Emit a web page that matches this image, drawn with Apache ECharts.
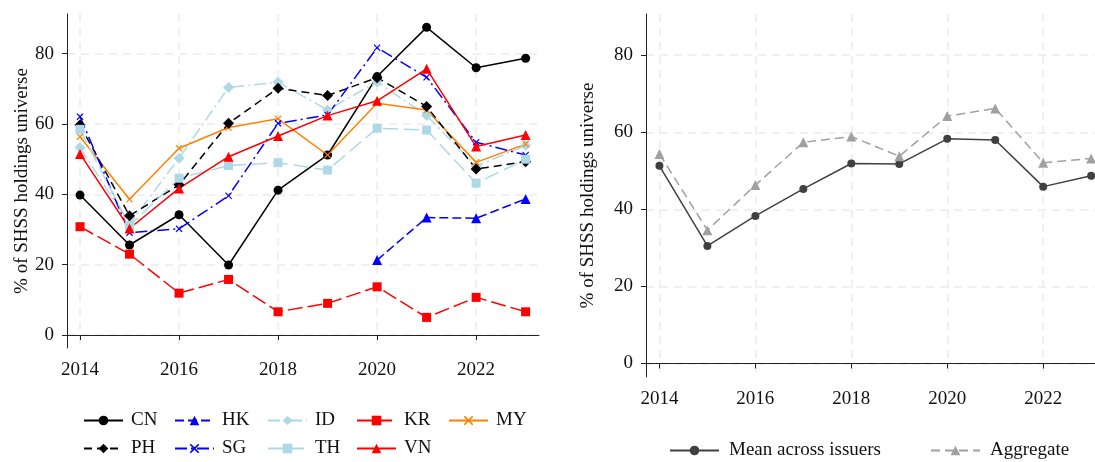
<!DOCTYPE html>
<html>
<head>
<meta charset="utf-8">
<script src="https://cdn.jsdelivr.net/npm/echarts@6/dist/echarts.min.js"></script>
<style>
  html, body { margin: 0; padding: 0; background: #fff; }
  #chart { width: 1095px; height: 462px; }
</style>
</head>
<body>
<div id="chart"></div>
<script>
// Share of SHSS holdings universe by issuer country, 2014-2023
const years = [2014, 2015, 2016, 2017, 2018, 2019, 2020, 2021, 2022, 2023];
const xTickYears = [2014, 2016, 2018, 2020, 2022];
const yTicks = [0, 20, 40, 60, 80];

const cn = [39.8, 25.6, 34.2, 19.9, 41.2, 51.2, 73.5, 87.5, 76.0, 78.7];
const hk = [null, null, null, null, null, null, 21.3, 33.4, 33.2, 38.7];
const id = [53.3, 31.5, 50.3, 70.4, 71.9, 64.0, 72.0, 62.4, 48.0, 53.9];
const kr = [30.8, 23.0, 11.9, 15.8, 6.6, 9.0, 13.7, 5.0, 10.7, 6.6];
const my = [56.4, 38.6, 53.1, 59.0, 61.5, 51.2, 65.9, 64.0, 49.1, 54.3];
const ph = [59.7, 33.9, 42.7, 60.2, 70.2, 68.1, 73.2, 65.0, 47.2, 49.3];
const sg = [62.1, 29.1, 30.2, 39.6, 60.2, 62.6, 81.7, 73.3, 54.8, 51.2];
const th = [58.5, 31.0, 44.6, 48.2, 49.0, 46.9, 58.8, 58.3, 43.2, 50.0];
const vn = [51.5, 30.3, 41.7, 50.7, 56.6, 62.4, 66.6, 75.7, 53.6, 56.9];

const meanIssuers = [51.3, 30.5, 38.3, 45.3, 51.9, 51.8, 58.3, 58.0, 45.9, 48.7];
const aggregate = [54.4, 34.6, 46.3, 57.4, 58.9, 53.8, 64.2, 66.2, 52.1, 53.2];

const FONT = '"Liberation Serif", "DejaVu Serif", serif';
const CROSS = 'path://M0,1.2L1.2,0L5,3.8L8.8,0L10,1.2L6.2,5L10,8.8L8.8,10L5,6.2L1.2,10L0,8.8L3.8,5Z';

const pairs = vals => years.map((y, i) => [y, vals[i]]);

// series definitions for the country panel
const countrySeries = [
  { name: 'CN', data: cn, color: '#000000', dash: 'solid', symbol: 'circle', size: 9 },
  { name: 'HK', data: hk, color: '#0000ff', dash: [9, 4], symbol: 'triangle', size: 10 },
  { name: 'ID', data: id, color: '#add8e6', dash: [12, 4, 2, 4], symbol: 'diamond', size: 11 },
  { name: 'KR', data: kr, color: '#ff0000', dash: [15, 5], symbol: 'rect', size: 9 },
  { name: 'MY', data: my, color: '#ff8000', dash: 'solid', symbol: CROSS, size: 7 },
  { name: 'PH', data: ph, color: '#000000', dash: [8, 5], symbol: 'diamond', size: 11 },
  { name: 'SG', data: sg, color: '#0000ff', dash: [12, 4, 2, 4], symbol: CROSS, size: 7 },
  { name: 'TH', data: th, color: '#add8e6', dash: [15, 6], symbol: 'rect', size: 9 },
  { name: 'VN', data: vn, color: '#ff0000', dash: 'solid', symbol: 'triangle', size: 10 }
];

const summarySeries = [
  { name: 'Mean across issuers', data: meanIssuers, color: '#404040', dash: 'solid', symbol: 'circle', size: 8 },
  { name: 'Aggregate', data: aggregate, color: '#a0a0a0', dash: [9, 5], symbol: 'triangle', size: 10 }
];

function makeSeries(s, axisIdx) {
  return {
    type: 'line',
    name: s.name,
    xAxisIndex: axisIdx,
    yAxisIndex: axisIdx,
    data: pairs(s.data),
    connectNulls: false,
    symbol: s.symbol,
    symbolSize: s.size,
    showSymbol: true,
    animation: false,
    lineStyle: { color: s.color, width: 1.5, type: s.dash },
    itemStyle: { color: s.color, borderWidth: 0 },
    emphasis: { disabled: true }
  };
}

function xAxisFor(gridIndex, min, max) {
  return {
    type: 'value',
    gridIndex: gridIndex,
    min: min,
    max: max,
    axisLine: { show: true, lineStyle: { color: '#222', width: 1 } },
    axisTick: { show: true, length: 5, customValues: xTickYears, lineStyle: { color: '#222' } },
    axisLabel: {
      customValues: xTickYears, margin: 13,
      formatter: v => String(v),
      color: '#111', fontFamily: FONT, fontSize: 19
    },
    splitLine: { show: true, lineStyle: { color: '#ebebeb', width: 1.5, type: [8, 6] } }
  };
}

function yAxisFor(gridIndex, min, max, nameGap) {
  return {
    type: 'value',
    gridIndex: gridIndex,
    min: min,
    max: max,
    name: '% of SHSS holdings universe',
    nameLocation: 'middle',
    nameRotate: 90,
    nameGap: nameGap,
    nameTextStyle: { color: '#111', fontFamily: FONT, fontSize: 19 },
    axisLine: { show: true, lineStyle: { color: '#222', width: 1 } },
    axisTick: { show: true, length: 5, customValues: yTicks, lineStyle: { color: '#222' } },
    axisLabel: {
      customValues: yTicks, margin: 13,
      formatter: v => String(v),
      color: '#111', fontFamily: FONT, fontSize: 19
    },
    splitLine: { show: true, lineStyle: { color: '#ebebeb', width: 1.5, type: [8, 6] } }
  };
}

// one legend block per entry so columns line up like a table
const leftCols = [83, 174, 267, 356, 448];
const legends = countrySeries.map((s, i) => ({
  data: [s.name],
  left: leftCols[i % 5],
  top: i < 5 ? 411 : 439,
  itemWidth: 39,
  itemHeight: 12,
  padding: 0,
  selectedMode: false,
  textStyle: { color: '#111', fontFamily: FONT, fontSize: 19, padding: [0, 0, 0, 3] }
}));
[669, 930].forEach((x, i) => legends.push({
  data: [summarySeries[i].name],
  left: x,
  top: 441,
  itemWidth: 49,
  itemHeight: 12,
  padding: 0,
  selectedMode: false,
  textStyle: { color: '#111', fontFamily: FONT, fontSize: 19, padding: [0, 0, 0, 5] }
}));

const option = {
  backgroundColor: '#ffffff',
  animation: false,
  grid: [
    { left: 67, top: 14, width: 472, height: 334, outerBoundsMode: 'none', containLabel: false },
    { left: 646, top: 14, width: 449, height: 363, outerBoundsMode: 'none', containLabel: false }
  ],
  xAxis: [xAxisFor(0, 2013.737, 2023.27), xAxisFor(1, 2013.72, 2023.08)],
  yAxis: [yAxisFor(0, -3.7, 91.3, 35), yAxisFor(1, -3.5, 90.7, 48)],
  legend: legends,
  series: countrySeries.map(s => makeSeries(s, 0)).concat(summarySeries.map(s => makeSeries(s, 1)))
};

const chart = echarts.init(document.getElementById('chart'), null, { renderer: 'canvas' });
chart.setOption(option);
</script>
</body>
</html>
